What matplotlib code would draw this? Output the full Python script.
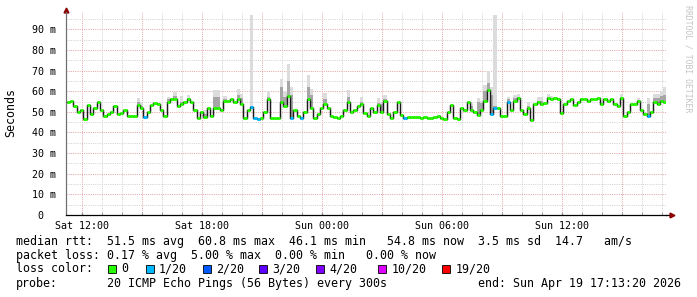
import matplotlib.pyplot as plt
from matplotlib.patches import Rectangle

plt.rcParams['font.family'] = ['DejaVu Sans Mono']

# median rtt in ms, one value per 10 minutes starting Sat 11:15 (hours since Sat 00:00)
start_hour = 11.25
step_hours = 1 / 6
median = [55, 55.5, 53, 50, 51, 46.5, 53.5, 49, 52, 55,
          51, 48, 49, 50, 53, 49, 49.5, 51, 48, 48,
          48, 53.5, 52, 47.5, 50, 53.5, 54.5, 54, 51, 48,
          55, 56, 56, 53, 54, 55, 56, 55, 51, 47,
          50, 47.5, 52, 48, 52,
          52, 51, 55.5, 55.5, 56, 55, 56, 54, 47, 51,
          52.5, 47, 46.5, 47, 50, 56, 47, 47, 47, 55,
          53, 57.5, 47, 51, 48, 47, 50, 56, 52, 47,
          49, 52, 54, 52, 48, 47.5, 47, 48, 51, 55,
          50, 51, 53, 54, 49.5,
          48, 52, 50, 53.5, 50, 55.5, 49, 47, 50, 55,
          48.5, 47, 47.5, 47.5, 47.5, 47.5, 47, 47.5, 47, 47,
          47.5, 48, 47, 46.5, 50, 53.5, 47, 46.5, 52, 51,
          55, 51, 50, 48.5, 51, 55.5, 60.8, 49, 52, 52,
          48, 48, 55, 51, 55.5,
          56.5, 51, 49, 52, 46.1, 54, 55, 54, 54.5, 56.5,
          56, 56.5, 56, 49.5, 54, 55.5, 56, 53.5, 55, 56,
          56, 55.5, 56, 56, 56.5, 54, 56, 55.5, 56, 54,
          53, 56.5, 48, 50, 54, 54, 55.5, 51, 49, 48,
          50, 55, 54, 55.5, 55]

# points with 1/20 packet loss
loss_idx = [23, 55, 56, 57, 67, 70, 101, 127, 128, 132, 174]

# smoke (spread of the 20 pings): index, top of light smoke, top of dark smoke
smoke_idx = [21, 22, 30, 32, 34, 36, 41, 44, 45, 47, 51, 52, 55, 60, 64, 65, 66, 67,
             72, 73, 77, 84, 88, 93, 94, 95, 121, 123, 124, 125, 126, 127, 128, 132,
             134, 135, 138, 141, 142, 144, 145, 166, 171, 174, 176, 177, 178, 179]
smoke_top = [56.5, 55, 57, 59.5, 57.5, 58, 51, 60.5, 60.5, 57.5, 61, 58.5, 97, 60, 66, 60, 73, 62,
             68, 61, 59, 60.5, 57, 56.5, 55, 58, 54.5, 56.5, 55.5, 63, 70, 62, 97, 57,
             58, 58.5, 55, 57, 57, 58.5, 57.5, 58.5, 56.5, 56.5, 58.5, 58.5, 60, 62]
smoke_mid = [55, 53, 56, 57.5, 55, 56.5, 49, 57, 57, 56, 58, 56.5, 53, 57, 62, 57, 65, 58,
             62, 58, 56, 57, 55, 54.5, 54, 56, 53, 55, 54.5, 60, 64, 58, 53, 56,
             56.5, 57, 53, 55.5, 55.5, 57, 56.5, 56.5, 55.5, 54, 56.5, 56.5, 57.5, 58]

x_start, x_end = 11 + 13.333 / 60, 41 + 13.333 / 60
label_hours = [12, 18, 24, 30, 36]
label_text = ['Sat 12:00', 'Sat 18:00', 'Sun 00:00', 'Sun 06:00', 'Sun 12:00']
ytick_vals = [0, 10, 20, 30, 40, 50, 60, 70, 80, 90]
ytick_text = ['0  ', '10 m', '20 m', '30 m', '40 m', '50 m', '60 m', '70 m', '80 m', '90 m']

loss_labels = ['0', '1/20', '2/20', '3/20', '4/20', '10/20', '19/20']
loss_colors = ['#26ff00', '#00b8ff', '#0059ff', '#5e00ff', '#7e00ff', '#dd00ff', '#ff0000']

W, H = 697, 297
fig = plt.figure(figsize=(W / 100, H / 100), dpi=100)
ax = fig.add_axes([66 / W, 82 / H, 600 / W, 203 / H])
ax.set_xlim(x_start, x_end)
ax.set_ylim(0, 98.4)

times = [start_hour + i * step_hours for i in range(len(median))]

# grid
for h in range(12, 42):
    red = h % 3 == 0
    ax.axvline(h, color='#e3a6a6' if red else '#d2d2d2', lw=0.72,
               ls=(0, (1, 1.2)), zorder=0)
for v in range(5, 100, 5):
    red = v % 10 == 0
    ax.axhline(v, color='#e3a6a6' if red else '#d2d2d2', lw=0.72,
               ls=(0, (1, 1.2)), zorder=0)

# smoke
for i, top, mid in zip(smoke_idx, smoke_top, smoke_mid):
    ax.bar(times[i], top - median[i], bottom=median[i], width=step_hours,
           align='edge', color='#dcdcdc', lw=0, zorder=1)
    ax.bar(times[i], mid - median[i], bottom=median[i], width=step_hours,
           align='edge', color='#a6a6a6', lw=0, zorder=1)

# median line
ax.step(times + [times[-1] + step_hours], median + [median[-1]], where='post',
        color='#1a1a1a', lw=1.05, zorder=2)
cols = [loss_colors[1] if i in loss_idx else loss_colors[0] for i in range(len(median))]
ax.hlines(median, times, [t + step_hours for t in times], colors=cols, lw=2.1, zorder=3)

# axes
for s in ['top', 'right']:
    ax.spines[s].set_visible(False)
ax.spines['left'].set_color('#707070')
ax.spines['bottom'].set_color('black')
ax.spines['left'].set_linewidth(0.9)
ax.spines['bottom'].set_linewidth(0.9)
ax.plot([1, 1.01], [0, 0], color='black', lw=0.9, transform=ax.transAxes, clip_on=False)
ax.plot([1.01], [0], marker='>', color='#8b0000', ms=3.5, transform=ax.transAxes, clip_on=False)
ax.plot([0], [1.012], marker='^', color='#8b0000', ms=3.5, transform=ax.transAxes, clip_on=False)

ax.set_xticks(label_hours)
ax.set_xticklabels(label_text, fontsize=7.2)
ax.set_xticks(range(12, 42), minor=True)
ax.tick_params(axis='x', which='both', length=2, direction='in', color='#909090', pad=4)
ax.set_yticks(ytick_vals)
ax.set_yticklabels(ytick_text, fontsize=7.2)
ax.tick_params(axis='y', length=0, pad=7)

fig.text(11 / W, 1 - 113 / H, 'Seconds', rotation=90, fontsize=8.4, ha='center', va='center')
fig.text(688 / W, 1 - 5 / H, 'RRDTOOL / TOBI OETIKER', rotation=270, fontsize=5.9,
         color='#c4c4c4', ha='center', va='top')

x0 = 15.5 / W
fig.text(x0, 1 - 241 / H,
         'median rtt:  51.5 ms avg  60.8 ms max  46.1 ms min   54.8 ms now  3.5 ms sd  14.7   am/s',
         fontsize=8.4, va='center')
fig.text(x0, 1 - 255 / H,
         'packet loss: 0.17 % avg  5.00 % max  0.00 % min   0.00 % now',
         fontsize=8.4, va='center')
fig.text(x0, 1 - 269 / H, 'loss color:', fontsize=8.4, va='center')
sq_x = [108.3, 145.7, 202.7, 259, 316, 378.3, 442.3]
for sx, lab, c in zip(sq_x, loss_labels, loss_colors):
    fig.patches.append(Rectangle((sx / W, 1 - 273 / H), 8 / W, 8 / H, facecolor=c,
                                 edgecolor='black', lw=0.6, transform=fig.transFigure))
    fig.text((sx + 13) / W, 1 - 269 / H, lab, fontsize=8.4, va='center')
fig.text(x0, 1 - 283.5 / H, 'probe:', fontsize=8.4, va='center')
fig.text(107 / W, 1 - 283.5 / H, '20 ICMP Echo Pings (56 Bytes) every 300s', fontsize=8.4, va='center')
fig.text(478 / W, 1 - 283.5 / H, 'end: Sun Apr 19 17:13:20 2026', fontsize=8.4, va='center')

fig.savefig('out.png', dpi=100)
